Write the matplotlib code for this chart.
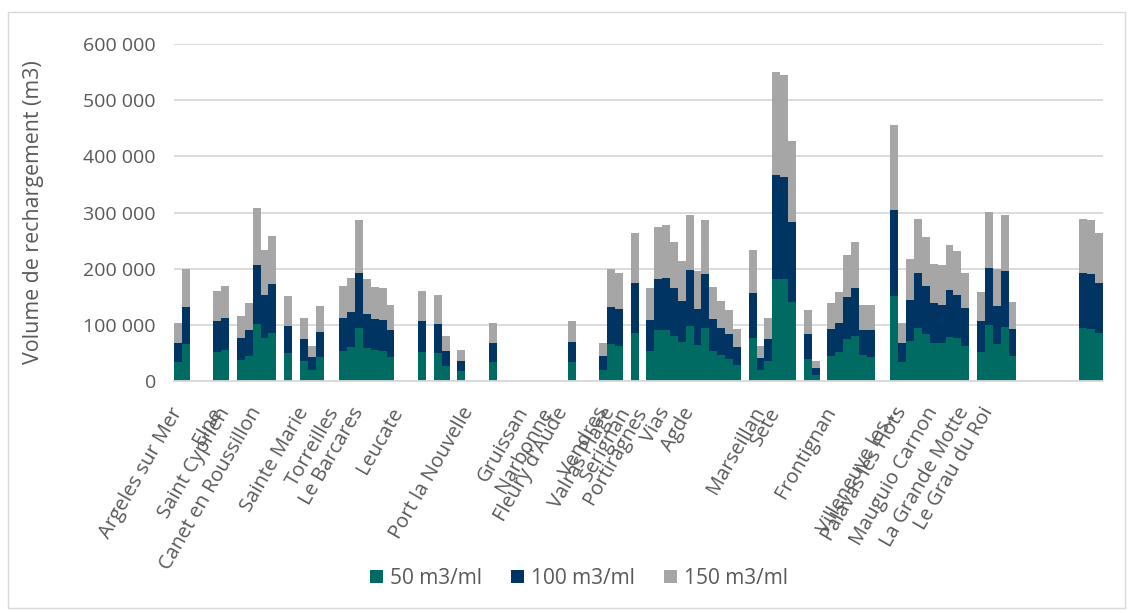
import matplotlib
matplotlib.use("Agg")
import matplotlib.pyplot as plt
from matplotlib.patches import Rectangle
from matplotlib.ticker import FuncFormatter

# Colours / fonts
TEAL = "#006B63"
NAVY = "#003462"
GREY = "#A6A6A6"
TEXT = "#595959"
GRID = "#D9D9D9"
plt.rcParams["font.family"] = ["Open Sans", "DejaVu Sans"]

# One entry per profile, commune name on some of them
categories = [
    "Argeles sur Mer", "", "", "", "", "Elne", "Saint Cyprien", "", "", "",
    "Canet en Roussillon", "", "", "", "", "", "Sainte Marie", "", "", "",
    "Torreilles", "", "", "Le Barcares", "", "", "", "", "Leucate", "",
    "", "", "", "", "", "", "", "Port la Nouvelle", "", "",
    "", "", "", "", "Gruissan", "", "", "Narbonne", "", "Fleury d'Aude",
    "", "", "", "", "Vendres", "Valras Plage", "", "Serignan", "", "Portiragnes",
    "", "", "Vias", "", "", "Agde", "", "", "", "",
    "", "", "", "", "Marseillan", "", "Sete", "", "", "",
    "", "", "", "Frontignan", "", "", "", "", "", "",
    "", "Villeneuve les…", "Palavas les Flots", "", "", "", "Mauguio Carnon", "", "", "",
    "La Grande Motte", "", "", "Le Grau du Roi", "", "", "", "", "", "",
    "", "", "", "", "", "", "", "",
]

# Volumes in thousands of m3 (stacked segments)
vol_50 = [
    33, 65, 0, 0, 0, 51, 55, 0, 37, 44,
    101, 76, 85, 0, 49, 0, 36, 20, 42, 0,
    0, 53, 60, 95, 58, 55, 54, 43, 0, 0,
    0, 51, 0, 49, 27, 0, 18, 0, 0, 0,
    33, 0, 0, 0, 0, 0, 0, 0, 0, 0,
    33, 0, 0, 0, 20, 66, 63, 0, 85, 0,
    54, 90, 90, 81, 69, 98, 64, 95, 54, 47,
    39, 29, 0, 77, 20, 36, 181, 181, 140, 0,
    40, 11, 0, 45, 51, 75, 81, 46, 42, 0,
    0, 151, 33, 71, 95, 83, 67, 67, 79, 76,
    63, 0, 51, 99, 65, 97, 44, 0, 0, 0,
    0, 0, 0, 0, 0, 94, 92, 85,
]
vol_100 = [
    34, 66, 0, 0, 0, 55, 58, 0, 39, 46,
    105, 78, 87, 0, 49, 0, 38, 22, 46, 0,
    0, 60, 62, 98, 61, 56, 54, 47, 0, 0,
    0, 55, 0, 52, 26, 0, 18, 0, 0, 0,
    34, 0, 0, 0, 0, 0, 0, 0, 0, 0,
    36, 0, 0, 0, 24, 65, 66, 0, 89, 0,
    54, 91, 94, 84, 74, 99, 65, 95, 57, 48,
    44, 32, 0, 79, 21, 38, 185, 182, 143, 0,
    43, 12, 0, 47, 53, 75, 84, 45, 49, 0,
    0, 153, 34, 74, 98, 87, 71, 69, 83, 78,
    67, 0, 55, 102, 68, 99, 48, 0, 0, 0,
    0, 0, 0, 0, 0, 99, 98, 89,
]
vol_150 = [
    37, 68, 0, 0, 0, 55, 57, 0, 40, 48,
    102, 79, 86, 0, 53, 0, 39, 20, 45, 0,
    0, 57, 62, 94, 62, 57, 57, 46, 0, 0,
    0, 55, 0, 53, 28, 0, 20, 0, 0, 0,
    37, 0, 0, 0, 0, 0, 0, 0, 0, 0,
    37, 0, 0, 0, 23, 68, 63, 0, 89, 0,
    57, 93, 93, 82, 70, 98, 67, 96, 57, 47,
    43, 31, 0, 78, 22, 39, 184, 182, 144, 0,
    43, 13, 0, 46, 54, 74, 82, 44, 44, 0,
    0, 152, 37, 72, 95, 86, 71, 70, 81, 77,
    63, 0, 52, 100, 66, 99, 48, 0, 0, 0,
    0, 0, 0, 0, 0, 95, 96, 89,
]
series_names = ["50 m3/ml", "100 m3/ml", "150 m3/ml"]

W, H = 1132, 613
fig = plt.figure(figsize=(W / 100, H / 100), dpi=100)
ax = fig.add_axes([174 / W, 1 - 381 / H, 929 / W, 337 / H])

x = list(range(len(categories)))
s1 = [v * 1000 for v in vol_50]
s2 = [v * 1000 for v in vol_100]
s3 = [v * 1000 for v in vol_150]
bottom2 = s1
bottom3 = [a + b for a, b in zip(s1, s2)]

ax.bar(x, s1, width=1.0, color=TEAL, label=series_names[0], zorder=2)
ax.bar(x, s2, width=1.0, bottom=bottom2, color=NAVY, label=series_names[1], zorder=2)
ax.bar(x, s3, width=1.0, bottom=bottom3, color=GREY, label=series_names[2], zorder=2)

ax.set_xlim(-0.5, len(categories) - 0.5)
ax.set_ylim(0, 600000)
ax.set_yticks(range(0, 600001, 100000))
ax.yaxis.set_major_formatter(FuncFormatter(lambda v, p: f"{int(v):,}".replace(",", " ")))
ax.grid(axis="y", color=GRID, linewidth=1.3, zorder=0)
for s in ["top", "right", "left"]:
    ax.spines[s].set_visible(False)
ax.spines["bottom"].set_color(GRID)
ax.spines["bottom"].set_linewidth(1.3)

# only the named profiles get a tick label
lab_pos = [i for i, c in enumerate(categories) if c]
ax.set_xticks(lab_pos)
ax.set_xticklabels([categories[i] for i in lab_pos], rotation=60, ha="right",
                   va="center", rotation_mode="anchor", fontsize=14.5, color=TEXT)
ax.tick_params(axis="x", length=0, pad=20)
ax.tick_params(axis="y", length=0, pad=13, labelsize=14, labelcolor=TEXT)

ax.set_ylabel("Volume de rechargement (m3)", fontsize=15.4, color=TEXT)
ax.yaxis.set_label_coords(-0.14, 0.50)

fig.legend(loc="center", bbox_to_anchor=(579 / W, 1 - 578 / H), ncol=3, frameon=False,
           fontsize=15, labelcolor=TEXT, handlelength=0.6, handleheight=0.6,
           columnspacing=1.4, handletextpad=0.35)

# chart area border
fig.patches.append(Rectangle((8 / W, 1 - 608 / H), 1117 / W, 596 / H, transform=fig.transFigure,
                             fill=False, edgecolor=GRID, linewidth=1))

fig.savefig("out.png", dpi=100)
